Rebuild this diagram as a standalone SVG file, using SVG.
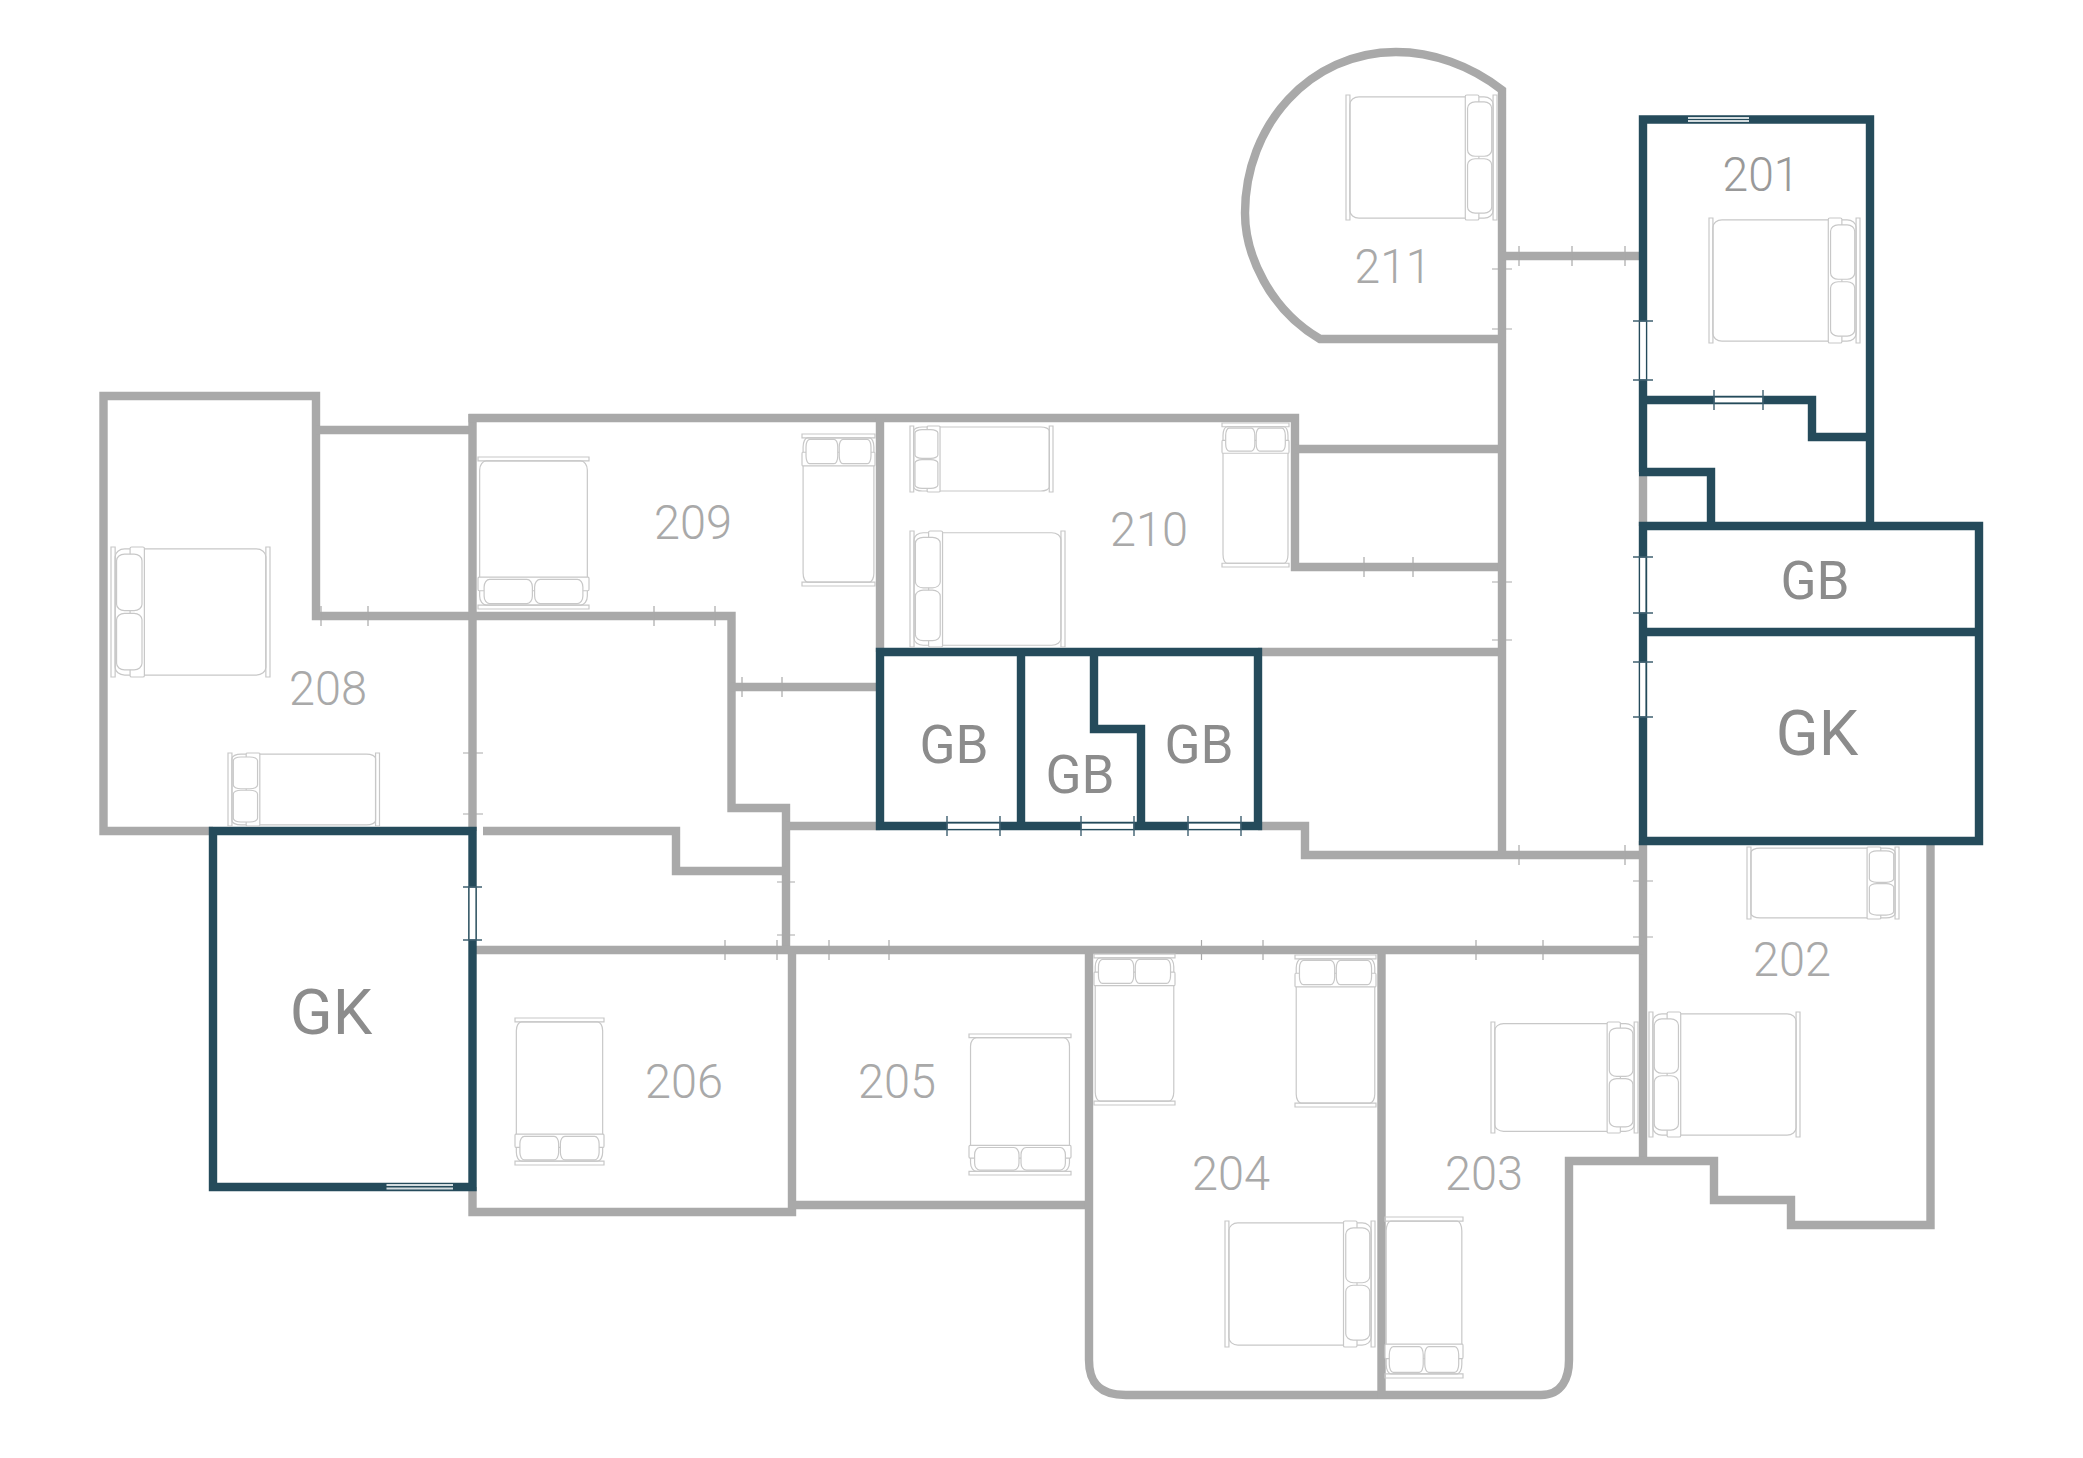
<svg xmlns="http://www.w3.org/2000/svg" width="2083" height="1458" viewBox="0 0 2083 1458">
<style>
.wall{fill:none;stroke:#a9a9a9;stroke-width:8.4;stroke-linejoin:miter}
.dark{fill:none;stroke:#254b5b;stroke-width:8.4;stroke-linejoin:miter}
.gt{stroke:#a9a9a9;stroke-width:1.2;fill:none}
.dt{stroke:#3f6070;stroke-width:1.4;fill:none}
.door{fill:#fff;stroke:#254b5b;stroke-width:1.2}
.win{stroke:#d3dcdf;stroke-width:2.2;fill:none}
.bed rect{fill:none;stroke:#c8c8c8;stroke-width:1.2;vector-effect:non-scaling-stroke}
.bed rect.p{fill:#fff}
text{font-family:Roboto,"Liberation Sans",sans-serif;text-anchor:middle}
.num{font-size:48px;font-weight:300;fill:#a9a9a9}
.num2{font-size:48px;font-weight:300;fill:#999}
.gb{font-size:53px;fill:#8c8c8c}
.gk{font-size:63px;fill:#8c8c8c}
</style>
<defs>
<g id="bed" class="bed">
<rect x="0" y="0" width="2.6" height="100"/>
<rect x="97.400" y="0" width="2.6" height="100"/>
<rect x="2.6" y="1.5" width="94.800" height="97" rx="6" ry="6"/>
<rect class="p" x="79" y="0" width="9" height="100" rx="1" ry="1"/>
<rect class="p" x="80.500" y="5.500" width="16" height="43.500" rx="5" ry="5"/>
<rect class="p" x="80.500" y="51" width="16" height="43.500" rx="5" ry="5"/>
</g>
</defs>
<rect width="2083" height="1458" fill="#fff"/>
<g id="walls-gray">
<path class="wall" d="M213 831H103.500V396H316V616H731.500V808H786V950"/>
<path class="wall" d="M316 430H472.500"/>
<path class="wall" d="M472.500 414V831"/>
<path class="wall" d="M468.500 418H1295V567H1502"/>
<path class="wall" d="M880 418V652"/>
<path class="wall" d="M1295 449H1502"/>
<path class="wall" d="M483 831H676V871H786"/>
<path class="wall" d="M731.500 687H880"/>
<path class="wall" d="M786 826H880"/>
<path class="wall" d="M1258 652H1502"/>
<path class="wall" d="M1258 826H1305V855H1643"/>
<path class="wall" d="M1502 855V90C1470 65 1432 52 1396 52C1310 52 1245 125 1245 213C1245 255 1270 310 1320 339H1502"/>
<path class="wall" d="M1502 256H1643"/>
<path class="wall" d="M1643 472V526"/>
<path class="wall" d="M1643 841V1162"/>
<path class="wall" d="M472.500 950H1643"/>
<path class="wall" d="M472.500 1187V1212H792V950"/>
<path class="wall" d="M792 1205H1089"/>
<path class="wall" d="M1089 950V1360C1089 1378 1095 1395 1126 1395H1541C1562 1395 1569 1378 1569 1360V1161H1714V1200H1791V1225H1930.500V841"/>
<path class="wall" d="M1381.500 950V1399"/>
</g>
<g id="walls-dark">
<path class="dark" d="M1643 472V119.500H1870V526"/>
<path class="dark" d="M1639 400H1812V437H1870"/>
<path class="dark" d="M1639 472H1711V526"/>
<path class="dark" d="M1643 526H1979V841H1643Z"/>
<path class="dark" d="M1643 632H1979"/>
<path class="dark" d="M213 831H472.500V1187H213Z"/>
<path class="dark" d="M880 652H1258V826H880Z"/>
<path class="dark" d="M1021 652V826"/>
<path class="dark" d="M1094 652V729H1141V826"/>
</g>
<g id="ticks-gray" class="gt">
<path d="M1519 246v20M1572 246v20M1625 246v20"/>
<path d="M1492 269h20M1492 329h20M1492 582h20M1492 640h20"/>
<path d="M1364 557v20M1413 557v20"/>
<path d="M1519 845v20M1625 845v20"/>
<path d="M1633 881h20M1633 937h20"/>
<path d="M321 606v20M368 606v20M654 606v20M715 606v20"/>
<path d="M742 677v20M782 677v20"/>
<path d="M463 753h20M463 814h20"/>
<path d="M777 882h18M777 935h18"/>
<path d="M725 940v20M777 940v20M829 940v20M889 940v20"/>
<path d="M1201.500 940v20M1263 940v20M1476 940v20M1543 940v20"/>
</g>
<g id="openings">
<rect class="door" x="1639.500" y="321" width="7" height="59"/>
<rect class="door" x="1714" y="397" width="49" height="6"/>
<rect class="door" x="1639.500" y="557" width="6.500" height="56"/>
<rect class="door" x="1639.500" y="662" width="6.500" height="55"/>
<rect class="door" x="469" y="887" width="7" height="53"/>
<rect class="door" x="947" y="823" width="53" height="6.500"/>
<rect class="door" x="1081" y="823" width="53" height="6.500"/>
<rect class="door" x="1188" y="823" width="53" height="6.500"/>
<g class="dt">
<path d="M1633 321h20M1633 380h20M1714 390v20M1763 390v20"/>
<path d="M1633 557h20M1633 613h20M1633 662h20M1633 717h20"/>
<path d="M463 887h19M463 940h19"/>
<path d="M947 816v20M1000 816v20M1081 816v20M1134 816v20M1188 816v20M1241 816v20"/>
</g>
<path class="win" d="M1688 118H1749M1688 121H1749M386.500 1185H453M386.500 1188.500H453"/>
</g>
<g id="beds">
<use href="#bed" transform="matrix(1.51 0 0 1.25 1346 95)"/>
<use href="#bed" transform="matrix(1.51 0 0 1.25 1709 218)"/>
<use href="#bed" transform="matrix(0 1.52 1.11 0 478 457)"/>
<use href="#bed" transform="matrix(0 -1.52 .73 0 802 586)"/>
<use href="#bed" transform="matrix(-1.59 0 0 1.30 270 547)"/>
<use href="#bed" transform="matrix(-1.515 0 0 .73 379.500 753)"/>
<use href="#bed" transform="matrix(-1.43 0 0 .66 1053 426)"/>
<use href="#bed" transform="matrix(-1.55 0 0 1.16 1065 531)"/>
<use href="#bed" transform="matrix(0 -1.44 .67 0 1222 567)"/>
<use href="#bed" transform="matrix(1.52 0 0 .72 1747 847)"/>
<use href="#bed" transform="matrix(-1.51 0 0 1.25 1800 1012)"/>
<use href="#bed" transform="matrix(1.47 0 0 1.11 1491 1022)"/>
<use href="#bed" transform="matrix(0 -1.51 .81 0 1094 1105)"/>
<use href="#bed" transform="matrix(0 -1.52 .81 0 1295 1107)"/>
<use href="#bed" transform="matrix(1.5 0 0 1.26 1225 1221)"/>
<use href="#bed" transform="matrix(0 1.61 .78 0 1385 1217)"/>
<use href="#bed" transform="matrix(0 1.47 .89 0 515 1018)"/>
<use href="#bed" transform="matrix(0 1.41 1.02 0 969 1034)"/>
</g>
<g id="labels">
<text class="num2" x="1761" y="191" textLength="77" lengthAdjust="spacingAndGlyphs">201</text>
<text class="num" x="1393" y="283" textLength="77" lengthAdjust="spacingAndGlyphs">211</text>
<text class="num" x="328" y="705" textLength="78" lengthAdjust="spacingAndGlyphs">208</text>
<text class="num" x="693" y="539" textLength="78" lengthAdjust="spacingAndGlyphs">209</text>
<text class="num" x="1149" y="546" textLength="78" lengthAdjust="spacingAndGlyphs">210</text>
<text class="num" x="1792" y="976" textLength="78" lengthAdjust="spacingAndGlyphs">202</text>
<text class="num" x="1484" y="1190" textLength="78" lengthAdjust="spacingAndGlyphs">203</text>
<text class="num" x="1231" y="1190" textLength="78" lengthAdjust="spacingAndGlyphs">204</text>
<text class="num" x="897" y="1098" textLength="78" lengthAdjust="spacingAndGlyphs">205</text>
<text class="num" x="684" y="1098" textLength="78" lengthAdjust="spacingAndGlyphs">206</text>
<text class="gb" x="954" y="763">GB</text>
<text class="gb" x="1080" y="793">GB</text>
<text class="gb" x="1199" y="763">GB</text>
<text class="gb" x="1815" y="599">GB</text>
<text class="gk" x="1817" y="755">GK</text>
<text class="gk" x="331" y="1034">GK</text>
</g>
</svg>
